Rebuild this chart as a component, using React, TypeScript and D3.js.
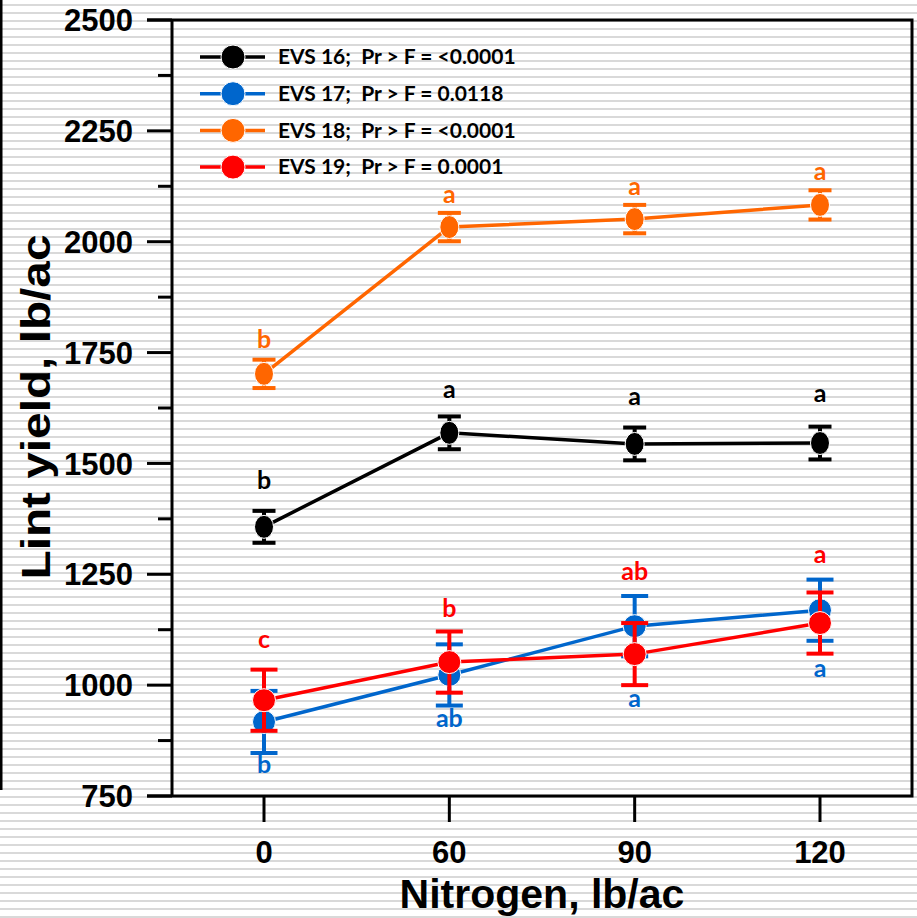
import React from "react";
import * as d3 from "d3";

const nitrogen = ["0", "60", "90", "120"];
const seriesNames = ["EVS 16", "EVS 17", "EVS 18", "EVS 19"];
const pValues = ["<0.0001", "0.0118", "<0.0001", "0.0001"];
const colors = ["#000000", "#0066CC", "#FF6600", "#FF0000"];

const evs16 = [1357, 1569, 1544, 1546];
const evs17 = [917, 1023, 1133, 1169];
const evs18 = [1702, 2033, 2051, 2083];
const evs19 = [966, 1052, 1070, 1140];

const err16 = [36, 37, 37, 37];
const err17 = [70, 69, 68, 69];
const err18 = [32, 32, 32, 33];
const err19 = [69, 69, 70, 69];

// mean separation letters and the yield level they sit at
const letters16 = ["b", "a", "a", "a"];
const letters17 = ["b", "ab", "a", "a"];
const letters18 = ["b", "a", "a", "a"];
const letters19 = ["c", "b", "ab", "a"];
const letterAt16 = [1442, 1648, 1632, 1639];
const letterAt17 = [802, 906, 951, 1018];
const letterAt18 = [1760, 2087, 2105, 2139];
const letterAt19 = [1084, 1154, 1237, 1275];

const yMajor = [750, 1000, 1250, 1500, 1750, 2000, 2250, 2500];

const W = 917;
const H = 918;
const margin = { top: 20, right: 5, bottom: 122, left: 172 };

const App = () => {
  const x = d3
    .scalePoint()
    .domain(nitrogen)
    .range([264, 820]);
  const y = d3
    .scaleLinear()
    .domain([750, 2500])
    .range([H - margin.bottom, margin.top]);

  const series = [
    { vals: evs16, err: err16, lett: letters16, at: letterAt16, rx: 9.5, ry: 11.5, cap: 11.5 },
    { vals: evs17, err: err17, lett: letters17, at: letterAt17, rx: 11.5, ry: 11.5, cap: 13.5 },
    { vals: evs18, err: err18, lett: letters18, at: letterAt18, rx: 9.5, ry: 11.5, cap: 11.5 },
    { vals: evs19, err: err19, lett: letters19, at: letterAt19, rx: 11.5, ry: 11.5, cap: 13.5 },
  ];

  const line = d3
    .line<number>()
    .x((d, i) => x(nitrogen[i]) as number)
    .y((d) => y(d));

  const minor = d3.range(875, 2500, 250);
  const x0 = margin.left;
  const x1 = W - margin.right;
  const yb = y(750);
  const yt = y(2500);

  return (
    <div style={{ position: "absolute", left: 0, top: 0 }}>
      <svg width={W} height={H} style={{ display: "block" }}>
        <defs>
          <pattern id="stripes" width={8} height={8} patternUnits="userSpaceOnUse">
            <rect width={8} height={8} fill="#ffffff" />
            <rect y={4} width={8} height={2} fill="#d9d9d9" />
          </pattern>
        </defs>
        <rect width={W} height={H} fill="url(#stripes)" />
        <line x1={1} x2={1} y1={0} y2={790} stroke="#000" strokeWidth={3} />

        {/* axes frame */}
        <g stroke="#000" strokeWidth={3} fill="none">
          <path d={`M${x0 - 25},${yt}H${x1}V${yb}H${x0 - 25}`} />
          <line x1={x0} x2={x0} y1={yt} y2={yb} />
          {yMajor.map((t) => (
            <line key={t} x1={x0 - 25} x2={x0} y1={y(t)} y2={y(t)} />
          ))}
          {minor.map((t) => (
            <line key={t} x1={x0 - 14} x2={x0} y1={y(t)} y2={y(t)} />
          ))}
          {nitrogen.map((n) => (
            <line key={n} x1={x(n)} x2={x(n)} y1={yb} y2={yb + 26} />
          ))}
        </g>

        <g fontFamily="'Liberation Sans', Arial, sans-serif" fontWeight="bold" fill="#000">
          {yMajor.map((t) => (
            <text key={t} x={133} y={y(t)} dy="0.36em" textAnchor="end" fontSize={31}>
              {t}
            </text>
          ))}
          {nitrogen.map((n) => (
            <text key={n} x={x(n)} y={863} textAnchor="middle" fontSize={31}>
              {n}
            </text>
          ))}
          <text x={542} y={908} textAnchor="middle" fontSize={41}>
            Nitrogen, lb/ac
          </text>
          <text
            transform={`translate(50,${(yt + yb) / 2 - 1}) rotate(-90)`}
            textAnchor="middle"
            fontSize={41}
            textLength={345}
            lengthAdjust="spacingAndGlyphs"
          >
            Lint yield, lb/ac
          </text>
        </g>

        {/* series */}
        {series.map((s, si) => (
          <g key={si}>
            <path d={line(s.vals) || ""} fill="none" stroke={colors[si]} strokeWidth={3.5} />
            {s.vals.map((v, i) => {
              const cx = x(nitrogen[i]) as number;
              return (
                <g key={i} stroke={colors[si]} strokeWidth={4}>
                  <line x1={cx} x2={cx} y1={y(v - s.err[i])} y2={y(v + s.err[i])} />
                  <line x1={cx - s.cap} x2={cx + s.cap} y1={y(v - s.err[i])} y2={y(v - s.err[i])} />
                  <line x1={cx - s.cap} x2={cx + s.cap} y1={y(v + s.err[i])} y2={y(v + s.err[i])} />
                </g>
              );
            })}
            {s.vals.map((v, i) => (
              <ellipse
                key={i}
                cx={x(nitrogen[i])}
                cy={y(v)}
                rx={s.rx}
                ry={s.ry}
                fill={colors[si]}
                stroke="#fff"
                strokeWidth={1}
              />
            ))}
            {s.lett.map((l, i) => (
              <text
                key={i}
                x={x(nitrogen[i])}
                y={y(s.at[i])}
                textAnchor="middle"
                fontFamily="Lato, 'Open Sans', sans-serif"
                fontWeight="bold"
                fontSize={25}
                fill={colors[si]}
              >
                {l}
              </text>
            ))}
          </g>
        ))}

        {/* legend */}
        {seriesNames.map((name, i) => {
          const ly = 57 + i * 36.7;
          return (
            <g key={name}>
              <line x1={200} x2={265} y1={ly} y2={ly} stroke={colors[i]} strokeWidth={3.5} />
              <circle cx={233} cy={ly} r={12} fill={colors[i]} stroke="#fff" strokeWidth={1} />
              <text
                x={278}
                y={ly}
                dy="0.35em"
                fontFamily="Lato, 'Open Sans', sans-serif"
                fontWeight="bold"
                fontSize={21}
                fill="#000"
                style={{ whiteSpace: "pre" }}
              >
                {`${name};  Pr > F = ${pValues[i]}`}
              </text>
            </g>
          );
        })}
      </svg>
    </div>
  );
};

export default App;
